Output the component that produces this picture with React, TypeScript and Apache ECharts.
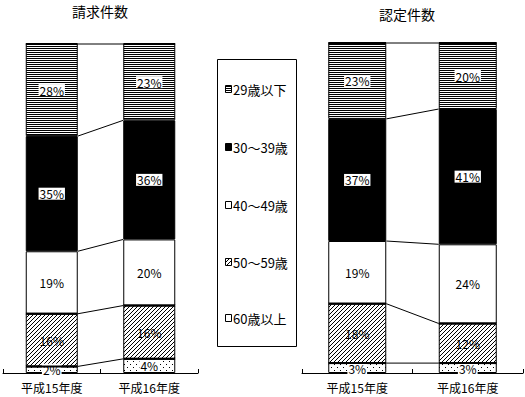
import React, { useEffect, useRef } from "react";
import * as echarts from "echarts";

// Categories (fiscal years)
const categories = ["平成15年度", "平成16年度"];
// Age groups, bottom of stack to top
const ageGroups = ["60歳以上", "50～59歳", "40～49歳", "30～39歳", "29歳以下"];
// Legend order (top to bottom)
const legendOrder = ["29歳以下", "30～39歳", "40～49歳", "50～59歳", "60歳以上"];

// 請求件数 (claims), share in %
const claimsOver60 = [2.0, 4.3];
const claims50s = [16.0, 16.2];
const claims40s = [19.0, 20.1];
const claims30s = [35.0, 36.2];
const claimsUnder29 = [28.0, 23.2];

// 認定件数 (approvals), share in %
const approvedOver60 = [3, 3];
const approved50s = [18, 12];
const approved40s = [19, 24];
const approved30s = [37, 41];
const approvedUnder29 = [23, 20];

const FONT = "'Noto Sans CJK JP', 'Noto Sans', sans-serif";

function makePattern(kind: string) {
  const c = document.createElement("canvas");
  let w = 2, h = 2;
  if (kind === "stripe") { w = 2; h = 2; }
  if (kind === "hatch") { w = 4; h = 4; }
  if (kind === "dots") { w = 6; h = 6; }
  c.width = w; c.height = h;
  const ctx = c.getContext("2d")!;
  ctx.fillStyle = "#fff";
  ctx.fillRect(0, 0, w, h);
  ctx.fillStyle = "#000";
  if (kind === "stripe") {
    ctx.fillRect(0, 0, 2, 1);
  } else if (kind === "hatch") {
    for (let i = 0; i < 4; i++) ctx.fillRect(3 - i, i, 1, 1);
  } else if (kind === "dots") {
    ctx.fillRect(1, 1, 1, 1);
    ctx.fillRect(4, 4, 1, 1);
  }
  return { image: c.toDataURL(), repeat: "repeat", imageWidth: w, imageHeight: h } as any;
}

export default function App() {
  const ref = useRef<HTMLDivElement>(null);
  useEffect(() => {
    if (!ref.current) return;
    const chart = echarts.init(ref.current, undefined, { renderer: "svg" });

    const stripe = makePattern("stripe");
    const hatch = makePattern("hatch");
    const dots = makePattern("dots");
    const fills: any[] = [dots, hatch, "#fff", "#000", stripe];
    const labelBg = ["#fff", "transparent", "#fff", "#fff", "#fff"];

    const panels = [
      { data: [claimsOver60, claims50s, claims40s, claims30s, claimsUnder29], barW: 52 },
      { data: [approvedOver60, approved50s, approved40s, approved30s, approvedUnder29], barW: 58 },
    ];
    // boundary line thickness for the top of each stacked segment (bottom to top)
    const boundaryWidth = [2, 2, 1, 1, 2];

    const series: any[] = [];
    panels.forEach((panel, pi) => {
      panel.data.forEach((vals, si) => {
        series.push({
          type: "bar",
          name: ageGroups[si],
          stack: "p" + pi,
          xAxisIndex: pi,
          yAxisIndex: pi,
          barWidth: panel.barW,
          data: vals,
          itemStyle: { color: fills[si], borderColor: "#000", borderWidth: 1 },
          label: {
            show: true,
            position: "inside",
            formatter: (p: any) => Math.round(p.value) + "%",
            color: "#000",
            fontSize: 12,
            fontFamily: FONT,
            backgroundColor: labelBg[si],
            padding: [0, 1],
          },
        });
      });
      // connector lines between the two bars
      const conn: number[][] = [];
      const cum = [0, 0];
      panel.data.forEach((vals, si) => {
        cum[0] += vals[0];
        cum[1] += vals[1];
        conn.push([0, cum[0], cum[1], boundaryWidth[si]]);
      });
      const half = panel.barW / 2;
      series.push({
        type: "custom",
        xAxisIndex: pi,
        yAxisIndex: pi,
        z: 5,
        clip: false,
        silent: true,
        data: conn,
        encode: { x: 0, y: 1 },
        renderItem: (params: any, api: any) => {
          const y1 = api.value(1);
          const y2 = api.value(2);
          const lw = api.value(3);
          const p1 = api.coord([0, y1]);
          const p2 = api.coord([1, y2]);
          const children: any[] = [
            {
              type: "line",
              shape: { x1: p1[0] + half, y1: p1[1], x2: p2[0] - half, y2: p2[1] },
              style: { stroke: "#000", lineWidth: 1 },
            },
          ];
          if (lw > 1) {
            children.push({
              type: "line",
              shape: { x1: p1[0] - half, y1: p1[1], x2: p1[0] + half, y2: p1[1] },
              style: { stroke: "#000", lineWidth: lw },
            });
            children.push({
              type: "line",
              shape: { x1: p2[0] - half, y1: p2[1], x2: p2[0] + half, y2: p2[1] },
              style: { stroke: "#000", lineWidth: lw },
            });
          }
          return { type: "group", children };
        },
      });
    });

    const xAxisCommon = {
      type: "category",
      data: categories,
      axisLine: { lineStyle: { color: "#000", width: 1 } },
      axisTick: { show: true, inside: true, length: 4, lineStyle: { color: "#000" } },
      axisLabel: { color: "#000", fontSize: 12, fontFamily: FONT, margin: 8 },
    };
    const yAxisCommon = { type: "value", min: 0, max: 100, show: false };

    const legendIcons: any[] = [stripe, "#000", "#fff", hatch, "#fff"];
    const legendY = [89, 147, 205, 262, 318];
    const legendGraphics: any[] = [
      { type: "rect", shape: { x: 217.5, y: 59.5, width: 79, height: 287 }, style: { fill: "#fff", stroke: "#000", lineWidth: 1 } },
    ];
    legendOrder.forEach((name, i) => {
      legendGraphics.push({
        type: "rect",
        shape: { x: 225.5, y: legendY[i] - 3.5, width: 6, height: 7 },
        style: { fill: legendIcons[i], stroke: "#000", lineWidth: 1 },
      });
      legendGraphics.push({
        type: "text",
        x: 233,
        y: legendY[i],
        style: { text: name, fill: "#000", font: `13px ${FONT}`, textVerticalAlign: "middle" },
      });
    });

    chart.setOption({
      animation: false,
      backgroundColor: "#fff",
      title: [
        { text: "請求件数", left: 100, top: 4, textAlign: "center", padding: 0, textStyle: { fontSize: 14, fontWeight: "normal", color: "#000", fontFamily: FONT } },
        { text: "認定件数", left: 407, top: 7, textAlign: "center", padding: 0, textStyle: { fontSize: 14, fontWeight: "normal", color: "#000", fontFamily: FONT } },
      ],
      grid: [
        { left: 3, width: 195, top: 44, height: 329 },
        { left: 302, width: 221, top: 43, height: 330 },
      ],
      xAxis: [
        { ...xAxisCommon, gridIndex: 0 },
        { ...xAxisCommon, gridIndex: 1 },
      ],
      yAxis: [
        { ...yAxisCommon, gridIndex: 0 },
        { ...yAxisCommon, gridIndex: 1 },
      ],
      series,
      graphic: legendGraphics,
    });
    return () => chart.dispose();
  }, []);
  return <div ref={ref} style={{ position: "fixed", left: 0, top: 0, width: 525, height: 397 }} />;
}
